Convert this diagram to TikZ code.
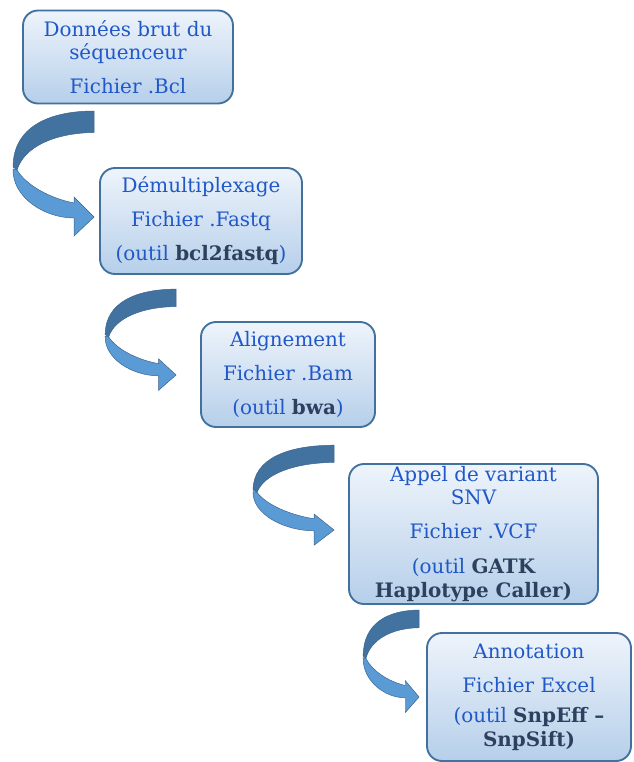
\documentclass[tikz,border=0pt]{standalone}
\usepackage{fontspec}
\setmainfont{DejaVu Serif}
\usetikzlibrary{calc}

\definecolor{txtblue}{RGB}{32,88,200}
\definecolor{tooldark}{RGB}{45,65,95}
\definecolor{boxline}{RGB}{65,113,156}
\definecolor{boxtop}{RGB}{238,244,251}
\definecolor{boxbot}{RGB}{182,207,234}
\definecolor{arrdark}{RGB}{66,114,160}
\definecolor{arrlight}{RGB}{91,155,213}
\definecolor{arredge}{RGB}{58,98,138}

\newcommand{\tool}[1]{\textcolor{tooldark}{\bfseries #1}}

\begin{document}
\begin{tikzpicture}[
    x=0.03cm, y=-0.03cm,
    stagebox/.style={rectangle, draw=boxline, line width=1.6pt, rounded corners=0.45cm,
                     top color=boxtop, bottom color=boxbot, text=txtblue, align=center,
                     inner sep=0pt, font=\fontsize{17}{20}\selectfont},
    curvarrow/.pic={
        % lower (front) part with the head
        \filldraw[fill=arrlight, draw=arredge, line width=0.4pt]
            (-81,-48) .. controls (-82,-20) and (-50,1) .. (-20,1) -- (-20,19) -- (0,0)
            -- (-20,-20) -- (-20,-14) .. controls (-45,-19) and (-68,-32) .. (-77,-47) -- cycle;
        % upper (back) part
        \filldraw[fill=arrdark, draw=arredge, line width=0.4pt]
            (0,-106) -- (0,-84.5) .. controls (-40,-84) and (-70,-70) .. (-77,-47)
            -- (-81,-50) .. controls (-81,-90) and (-45,-106) .. (0,-106) -- cycle;
    },
]
\useasboundingbox (0,0) rectangle (633,762);

% ── Steps ──
\node[stagebox, minimum width=6.3cm, minimum height=2.79cm] (brut) at (128,57)
    {Données brut du\\ séquenceur\\[9pt] Fichier .Bcl};
\node[stagebox, minimum width=6.06cm, minimum height=3.18cm] (demux) at (201,221)
    {Démultiplexage\\[9pt] Fichier .Fastq\\[9pt] (outil \tool{bcl2fastq})};
\node[stagebox, minimum width=5.22cm, minimum height=3.15cm] (align) at (288,374.5)
    {Alignement\\[9pt] Fichier .Bam\\[9pt] (outil \tool{bwa})};
\node[stagebox, minimum width=7.47cm, minimum height=4.2cm] (call) at (473.5,534)
    {Appel de variant\\ SNV\\[9pt] Fichier .VCF\\[10pt] (outil \tool{GATK}\\ \tool{Haplotype Caller)}};
\node[stagebox, minimum width=6.12cm, minimum height=3.84cm] (annot) at (529,697)
    {Annotation\\[9pt] Fichier Excel\\[6pt] (outil \tool{SnpEff –}\\ \tool{SnpSift)}};

% ── Curved arrows between steps ──
\pic at ($(demux.west)+(-5,-4)$) {curvarrow};
\pic[xscale=0.875, yscale=0.81] at ($(align.west)+(-24,0.5)$) {curvarrow};
\pic[yscale=0.8] at ($(call.west)+(-14,-4)$) {curvarrow};
\pic[xscale=0.69, yscale=0.82] at ($(annot.west)+(-7,0)$) {curvarrow};

\end{tikzpicture}
\end{document}
